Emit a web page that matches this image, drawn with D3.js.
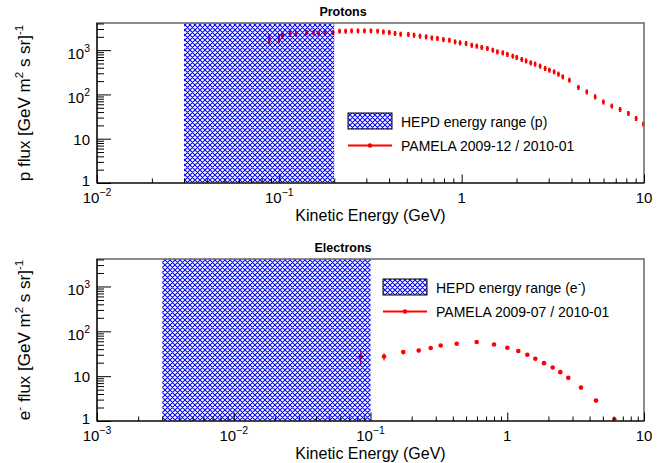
<!DOCTYPE html>
<html>
<head>
<meta charset="utf-8">
<script src="https://cdn.jsdelivr.net/npm/d3@7"></script>
<style>
  body { margin: 0; background: #fff; }
  text { font-family: "Liberation Sans", Arial, Helvetica, sans-serif; fill: #000; }
</style>
</head>
<body>
<div class="canvas"></div>
<script>
// PAMELA protons 2009-12 / 2010-01 (kinetic energy in GeV, flux, error)
const pEnergy = [0.088, 0.0995, 0.104, 0.1145, 0.1235, 0.141, 0.154, 0.164, 0.178, 0.197,
  0.214, 0.231, 0.249, 0.270, 0.293, 0.318, 0.346, 0.372, 0.401, 0.431,
  0.463, 0.510, 0.548, 0.591, 0.638, 0.686, 0.736, 0.794, 0.856, 0.920,
  0.980, 1.057, 1.136, 1.210, 1.289, 1.384, 1.482, 1.570, 1.681, 1.781,
  1.907, 2.005, 2.137, 2.256, 2.393, 2.527, 2.692, 2.868, 3.028, 3.214,
  3.393, 3.586, 3.898, 4.367, 4.857, 5.394, 5.988, 6.659, 7.395, 8.212,
  9.050, 9.92];
const pFlux = [1830, 1880, 2190, 2370, 2370, 2500, 2500, 2430, 2500, 2500,
  2700, 2700, 2740, 2740, 2740, 2740, 2700, 2600, 2520, 2400,
  2310, 2270, 2190, 2080, 2010, 1900, 1850, 1750, 1690, 1550,
  1470, 1420, 1300, 1240, 1160, 1100, 1005, 920, 874, 804,
  736, 688, 620, 576, 520, 486, 438, 388, 356, 326,
  289, 251, 211, 145, 115, 89, 68, 55, 46, 37.4,
  28.9, 21.5];
const pErr = [450, 420, 400, 380, 350, 340, 330, 320, 330, 330,
  350, 350, 350, 350, 350, 350, 350, 340, 330, 310,
  300, 295, 285, 270, 260, 250, 240, 230, 220, 200,
  190, 185, 170, 160, 150, 143, 130, 120, 114, 105,
  96, 90, 81, 75, 68, 63, 57, 50, 46, 42,
  38, 33, 27, 19, 15, 12, 9, 7, 6, 4.9,
  3.8, 2.8];

// PAMELA electrons 2009-07 / 2010-01
const eEnergy = [0.0848, 0.1256, 0.1737, 0.2252, 0.2756, 0.326, 0.4269, 0.5977, 0.8002, 1.001,
  1.204, 1.402, 1.604, 1.857, 2.149, 2.443, 2.795, 3.462, 4.457, 6.065];
const eFlux = [27.4, 27.4, 34.4, 37.4, 42.3, 48.4, 52.8, 57.6, 50.9, 43.0,
  36.3, 30.0, 24.4, 19.5, 15.6, 12.3, 9.16, 5.56, 2.85, 1.09];
const eErr = [10.5, 5, 3.5, 3.5, 3, 2.5, 2.5, 2.5, 2, 1.8,
  1.5, 1.2, 1, 0.8, 0.6, 0.5, 0.4, 0.25, 0.15, 0.06];

// HEPD energy ranges (GeV)
const pHepd = [0.03, 0.2];
const eHepd = [0.003, 0.1];

// axes
const yDomain = [1, 4100];
const yTicks = [1, 10, 100, 1000];
const pxDomain = [0.01, 10];
const pxTicks = [0.01, 0.1, 1, 10];
const exDomain = [0.001, 10];
const exTicks = [0.001, 0.01, 0.1, 1, 10];

const width = 667, height = 463;
const left = 97, right = 644;
const red = '#ff0000', blue = '#0000ff';

const svg = d3.select('.canvas')
  .append('svg')
  .attr('width', width)
  .attr('height', height);

// crosshatch fill
const pat = svg.append('defs').append('pattern')
  .attr('id', 'hatch')
  .attr('patternUnits', 'userSpaceOnUse')
  .attr('width', 5)
  .attr('height', 5);
pat.append('path')
  .attr('d', 'M0,0L5,5M-1,4L1,6M4,-1L6,1M0,5L5,0M-1,1L1,-1M4,6L6,4')
  .attr('stroke', blue)
  .attr('stroke-width', 1.05)
  .attr('fill', 'none');

function powLabel(sel, v, fs) {
  const e = Math.round(Math.log10(v));
  if (e === 0) { sel.text('1'); return false; }
  if (e === 1) { sel.text('10'); return false; }
  sel.append('tspan').text('10');
  sel.append('tspan')
    .attr('dy', -6.5)
    .attr('font-size', fs * 0.7)
    .text(e < 0 ? '\u2212' + (-e) : String(e));
  return true;
}

function panel(cfg) {
  const x = d3.scaleLog().domain(cfg.xDomain).range([left, right]);
  const y = d3.scaleLog().domain(yDomain).range([cfg.bottom, cfg.top]);
  const g = svg.append('g');

  // data points
  const pts = cfg.energy.map((e, i) => ({ e: e, f: cfg.flux[i], err: cfg.err[i] }));
  g.selectAll('line.err')
    .data(pts)
    .enter().append('line')
      .attr('class', 'err')
      .attr('x1', d => x(d.e))
      .attr('x2', d => x(d.e))
      .attr('y1', d => y(d.f + d.err))
      .attr('y2', d => y(Math.max(d.f - d.err, 1)))
      .attr('stroke', red)
      .attr('stroke-width', cfg.errWidth);
  g.selectAll('circle')
    .data(pts)
    .enter().append('circle')
      .attr('cx', d => x(d.e))
      .attr('cy', d => y(d.f))
      .attr('r', cfg.r)
      .attr('fill', red);

  // HEPD band drawn over the points
  g.append('rect')
    .attr('x', x(cfg.hepd[0]))
    .attr('y', cfg.top)
    .attr('width', x(cfg.hepd[1]) - x(cfg.hepd[0]))
    .attr('height', cfg.bottom - cfg.top)
    .attr('fill', 'url(#hatch)');

  // frame
  g.append('rect')
    .attr('x', left)
    .attr('y', cfg.top)
    .attr('width', right - left)
    .attr('height', cfg.bottom - cfg.top)
    .attr('fill', 'none')
    .attr('stroke', '#707070')
    .attr('stroke-width', 1.6);

  // ticks (inside)
  const isMajor = (v, list) => list.some(t => Math.abs(v / t - 1) < 1e-6);
  const xMinor = x.ticks().filter(v => !isMajor(v, cfg.xTicks));
  const yMinor = y.ticks().filter(v => !isMajor(v, yTicks));

  const xAxisG = g.append('g').attr('transform', `translate(0,${cfg.bottom})`);
  xAxisG.append('g').call(d3.axisBottom(x).tickValues(xMinor).tickSize(-4.5).tickFormat(''));
  xAxisG.append('g').call(d3.axisBottom(x).tickValues(cfg.xTicks).tickSize(-8.5).tickFormat(''));
  const yAxisG = g.append('g').attr('transform', `translate(${left},0)`);
  yAxisG.append('g').call(d3.axisLeft(y).tickValues(yMinor).tickSize(-7).tickFormat(''));
  yAxisG.append('g').call(d3.axisLeft(y).tickValues(yTicks).tickSize(-14).tickFormat(''));
  g.selectAll('.domain').remove();

  g.append('line')
    .attr('x1', left).attr('x2', right)
    .attr('y1', cfg.bottom).attr('y2', cfg.bottom)
    .attr('stroke', '#000').attr('stroke-width', 1.2);
  g.append('line')
    .attr('x1', left).attr('x2', left)
    .attr('y1', cfg.top).attr('y2', cfg.bottom)
    .attr('stroke', '#000').attr('stroke-width', 1.2);

  // tick labels
  cfg.xTicks.forEach(v => {
    const t = g.append('text')
      .attr('x', x(v))
      .attr('y', cfg.bottom + 19.5)
      .attr('text-anchor', 'middle')
      .attr('font-size', 15);
    powLabel(t, v, 15);
  });
  yTicks.forEach(v => {
    const t = g.append('text')
      .attr('x', 90)
      .attr('text-anchor', 'end')
      .attr('font-size', 15);
    const sup = powLabel(t, v, 15);
    t.attr('y', y(v) + (sup ? 8.5 : (v === 1 ? 3 : 6)));
  });

  // axis titles
  g.append('text')
    .attr('x', (left + right) / 2)
    .attr('y', cfg.bottom + 37.5)
    .attr('text-anchor', 'middle')
    .attr('font-size', 16)
    .text('Kinetic Energy (GeV)');

  const yt = g.append('text')
    .attr('transform', `translate(29.5,${(cfg.top + cfg.bottom) / 2}) rotate(-90)`)
    .attr('text-anchor', 'middle')
    .attr('font-size', 17);
  cfg.yTitle.forEach(part => {
    yt.append('tspan')
      .attr('dy', part.sup ? -7 : (part.back ? 7 : 0))
      .attr('font-size', part.sup ? 11.5 : 17)
      .text(part.t);
  });

  // panel title
  g.append('text')
    .attr('x', 343)
    .attr('y', cfg.top - 7)
    .attr('text-anchor', 'middle')
    .attr('font-size', 12.5)
    .attr('font-weight', 'bold')
    .text(cfg.title);

  // legend
  const L = cfg.legend;
  g.append('rect')
    .attr('x', L.x).attr('y', L.y)
    .attr('width', 44).attr('height', 16)
    .attr('fill', 'url(#hatch)')
    .attr('stroke', '#000').attr('stroke-width', 1);
  const lt = g.append('text')
    .attr('x', L.x + 53).attr('y', L.y + 13.5)
    .attr('font-size', 14);
  L.label1.forEach(part => {
    lt.append('tspan')
      .attr('dy', part.sup ? -6 : (part.back ? 6 : 0))
      .attr('font-size', part.sup ? 10 : 14)
      .text(part.t);
  });
  g.append('line')
    .attr('x1', L.x).attr('x2', L.x + 44)
    .attr('y1', L.y + 32.5).attr('y2', L.y + 32.5)
    .attr('stroke', red).attr('stroke-width', 2);
  g.append('circle')
    .attr('cx', L.x + 22).attr('cy', L.y + 32.5)
    .attr('r', 2.3).attr('fill', red);
  g.append('text')
    .attr('x', L.x + 53).attr('y', L.y + 37.5)
    .attr('font-size', 14)
    .text(L.label2);
}

panel({
  title: 'Protons',
  top: 23, bottom: 183,
  xDomain: pxDomain, xTicks: pxTicks,
  energy: pEnergy, flux: pFlux, err: pErr,
  hepd: pHepd, r: 1.5, errWidth: 2.2,
  yTitle: [{ t: 'p flux [GeV m' }, { t: '2', sup: true }, { t: ' s sr]', back: true }, { t: '-1', sup: true }],
  legend: { x: 348, y: 113, label1: [{ t: 'HEPD energy range (p)' }], label2: 'PAMELA 2009-12 / 2010-01' }
});

panel({
  title: 'Electrons',
  top: 259, bottom: 421,
  xDomain: exDomain, xTicks: exTicks,
  energy: eEnergy, flux: eFlux, err: eErr,
  hepd: eHepd, r: 2.3, errWidth: 1.2,
  yTitle: [{ t: 'e' }, { t: '-', sup: true }, { t: ' flux [GeV m', back: true }, { t: '2', sup: true }, { t: ' s sr]', back: true }, { t: '-1', sup: true }],
  legend: { x: 383, y: 279, label1: [{ t: 'HEPD energy range (e' }, { t: '-', sup: true }, { t: ')', back: true }], label2: 'PAMELA 2009-07 / 2010-01' }
});
</script>
</body>
</html>
